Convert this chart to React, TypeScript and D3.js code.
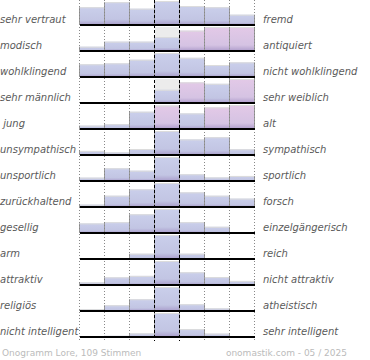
import React from "react";
import * as d3 from "d3";

const leftLabels = ["sehr vertraut", "modisch", "wohlklingend", "sehr männlich", " jung", "unsympathisch", "unsportlich", "zurückhaltend", "gesellig", "arm", "attraktiv", "religiös", "nicht intelligent"];
const rightLabels = ["fremd", "antiquiert", "nicht wohlklingend", "sehr weiblich", "alt", "sympathisch", "sportlich", "forsch", "einzelgängerisch", "reich", "nicht attraktiv", "atheistisch", "sehr intelligent"];
const bins = [1, 2, 3, 4, 5, 6, 7];
const values = [
  [74, 95, 68, 100, 79, 74, 43],
  [18, 39, 39, 58, 85, 100, 100],
  [53, 57, 72, 100, 80, 50, 61],
  [0, 0, 0, 55, 86, 80, 100],
  [14, 20, 72, 97, 65, 90, 100],
  [17, 11, 25, 100, 65, 74, 24],
  [14, 53, 43, 100, 28, 15, 21],
  [10, 47, 74, 100, 61, 47, 35],
  [40, 45, 78, 100, 45, 26, 0],
  [0, 0, 22, 100, 22, 0, 0],
  [11, 32, 38, 100, 53, 33, 17],
  [8, 24, 49, 100, 28, 11, 0],
  [0, 5, 15, 100, 33, 14, 0],
];
const pinkFlags = [
  [0, 0, 0, 0, 0, 0, 0],
  [0, 0, 0, 0, 1, 1, 1],
  [0, 0, 0, 0, 0, 0, 0],
  [0, 0, 0, 0, 1, 0, 1],
  [0, 0, 0, 1, 0, 1, 1],
  [0, 0, 0, 0, 0, 0, 0],
  [0, 0, 0, 0, 0, 0, 0],
  [0, 0, 0, 0, 0, 0, 0],
  [0, 0, 0, 0, 0, 0, 0],
  [0, 0, 0, 0, 0, 0, 0],
  [0, 0, 0, 0, 0, 0, 0],
  [0, 0, 0, 0, 0, 0, 0],
  [0, 0, 0, 0, 0, 0, 0],
];
const footerLeft = "Onogramm Lore, 109 Stimmen";
const footerRight = "onomastik.com - 05 / 2025";

const W = 370, H = 360;
const font = "'DejaVu Sans', Verdana, sans-serif";

export default function App() {
  const x = d3.scaleBand<number>().domain(bins).range([80, 255]).padding(0);
  const rowY = d3.scaleBand<number>().domain(d3.range(leftLabels.length)).range([-1, 337]);
  const h = d3.scaleLinear().domain([0, 100]).range([0, 24]);
  const base = (i: number) => (rowY(i) as number) + rowY.bandwidth();
  const bw = x.bandwidth();
  const gridXs = d3.range(0, 8).map((k) => 80 + k * bw - 0.5);

  return (
    <svg width={W} height={H} style={{ position: "absolute", left: 0, top: 0, background: "#fff" }}>
      <defs>
        <linearGradient id="gBlue" x1="0" y1="0" x2="0" y2="1">
          <stop offset="0" stopColor="#cacfeb" />
          <stop offset="0.75" stopColor="#c2c5e3" />
          <stop offset="1" stopColor="#a99dcb" />
        </linearGradient>
        <linearGradient id="gPink" x1="0" y1="0" x2="0" y2="1">
          <stop offset="0" stopColor="#e3c9e7" />
          <stop offset="0.75" stopColor="#d5c3e3" />
          <stop offset="1" stopColor="#ae9ccb" />
        </linearGradient>
      </defs>
      {leftLabels.map((_, i) => {
        const yb = base(i);
        return (
          <rect key={"bg" + i} x={x(4)! - 0.5} y={yb - 24} width={bw} height={24} fill="#ececec" />
        );
      })}
      {values.map((row, i) => {
        const yb = base(i);
        return (
          <g key={"r" + i}>
            {row.map((v, j) => {
              const hh = h(v);
              if (hh <= 0) return null;
              const x0 = x(bins[j])! - 0.5;
              return (
                <g key={j}>
                  <rect x={x0} y={yb - hh} width={bw} height={hh} fill={pinkFlags[i][j] ? "url(#gPink)" : "url(#gBlue)"} />
                  <line x1={x0 + 0.5} x2={x0 + bw - 0.5} y1={yb - hh + 0.5} y2={yb - hh + 0.5} stroke="#dcdcdc" />
                  <line x1={x0} x2={x0} y1={yb - hh} y2={yb} stroke="#999" />
                  <line x1={x0 + bw} x2={x0 + bw} y1={yb - hh} y2={yb} stroke="#999" />
                </g>
              );
            })}
          </g>
        );
      })}
      {gridXs.map((gx, k) => (
        <line
          key={"gx" + k}
          x1={gx}
          x2={gx}
          y1={0}
          y2={341}
          stroke={k === 3 || k === 4 ? "#000" : "#888"}
          strokeWidth={1}
          strokeDasharray={k === 3 || k === 4 ? "3,2" : "1,2"}
        />
      ))}
      {leftLabels.map((_, i) => {
        const yb = base(i);
        return <line key={"bl" + i} x1={80} x2={255} y1={yb} y2={yb} stroke="#000" strokeWidth={2} />;
      })}
      {leftLabels.map((t, i) => (
        <text key={"l" + i} x={0} y={base(i) - 2} fontFamily={font} fontSize={10} fontStyle="italic" fill="#5a5a5a" style={{ whiteSpace: "pre" }}>
          {t}
        </text>
      ))}
      {rightLabels.map((t, i) => (
        <text key={"rt" + i} x={263} y={base(i) - 2} fontFamily={font} fontSize={10} fontStyle="italic" fill="#5a5a5a">
          {t}
        </text>
      ))}
      <text x={2} y={356} fontFamily={font} fontSize={9} fill="#bbb">{footerLeft}</text>
      <text x={347} y={356} textAnchor="end" fontFamily={font} fontSize={9} fill="#bbb">{footerRight}</text>
    </svg>
  );
}
